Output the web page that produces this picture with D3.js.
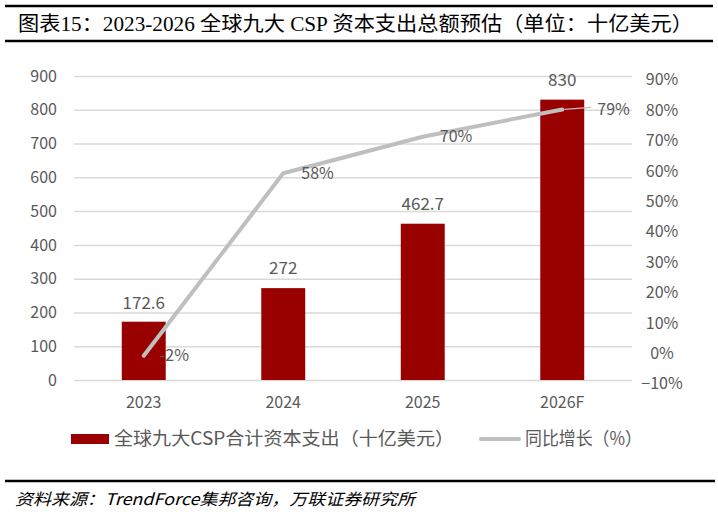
<!DOCTYPE html>
<html>
<head>
<meta charset="utf-8">
<script src="https://cdn.jsdelivr.net/npm/d3@7"></script>
<style>
  html, body { margin: 0; padding: 0; background: #fff; }
  svg { display: block; }
</style>
</head>
<body>
<div id="chart"></div>
<script>
const years = ["2023", "2024", "2025", "2026F"]
const capex = [172.6, 272, 462.7, 830]
const capexLabels = ["172.6", "272", "462.7", "830"]
const growth = [-0.02, 0.58, 0.70, 0.79]
const growthLabels = ["-2%", "58%", "70%", "79%"]
const leftTicks = [0, 100, 200, 300, 400, 500, 600, 700, 800, 900]
const rightTicks = [-0.1, 0, 0.1, 0.2, 0.3, 0.4, 0.5, 0.6, 0.7, 0.8, 0.9]

const titleText = "图表15：2023-2026 全球九大 CSP 资本支出总额预估（单位：十亿美元）"
const legendBar = "全球九大CSP合计资本支出（十亿美元）"
const legendLine = "同比增长（%）"
const sourceText = "资料来源：TrendForce集邦咨询，万联证券研究所"

const width = 718, height = 512
const plot = { left: 74, right: 632, top: 76, bottom: 380 }
const sans = "'Noto Sans CJK SC', 'Noto Sans', sans-serif"
const serif = "'Liberation Serif', 'Times New Roman', 'Noto Sans CJK SC', serif"
const textColor = "#595959"
const barColor = "#990000"
const lineColor = "#bfbfbf"

const svg = d3.select("#chart").append("svg")
  .attr("width", width)
  .attr("height", height)

// title block with the two heavy rules
svg.append("line").attr("x1", 5).attr("x2", 713).attr("y1", 6).attr("y2", 6)
  .attr("stroke", "#000").attr("stroke-width", 2.5)
svg.append("line").attr("x1", 5).attr("x2", 713).attr("y1", 41).attr("y2", 41)
  .attr("stroke", "#000").attr("stroke-width", 2.5)
svg.append("text")
  .attr("x", 18).attr("y", 31)
  .attr("textLength", 675).attr("lengthAdjust", "spacingAndGlyphs")
  .style("font-family", serif).style("font-size", "20px").style("fill", "#000")
  .text(titleText)

// scales
const x = d3.scaleBand()
  .domain(years)
  .range([plot.left, plot.right])
  .paddingInner(0.685)
  .paddingOuter(0.3425)

const y = d3.scaleLinear().domain([0, 900]).range([plot.bottom, plot.top])
const y2 = d3.scaleLinear().domain([-0.1, 0.9]).range([plot.bottom, plot.top])

// gridlines
svg.append("g")
  .attr("class", "grid")
  .attr("transform", `translate(${plot.left},0)`)
  .call(d3.axisLeft(y).tickValues(leftTicks).tickSize(-(plot.right - plot.left)).tickFormat(""))
  .call(g => g.select(".domain").remove())
  .call(g => g.selectAll("line").attr("stroke", "#d9d9d9").attr("stroke-width", 1.5))

// left axis labels
svg.append("g")
  .attr("class", "y-axis")
  .attr("transform", `translate(${plot.left},0)`)
  .call(d3.axisLeft(y).tickValues(leftTicks).tickSize(0).tickPadding(17))
  .call(g => g.select(".domain").remove())
  .call(g => g.selectAll("text")
    .style("font-family", sans).style("font-size", "16px").attr("fill", textColor))

// right axis labels
svg.append("g")
  .attr("class", "y2-axis")
  .attr("transform", `translate(${plot.right},0)`)
  .call(d3.axisRight(y2).tickValues(rightTicks).tickSize(0).tickPadding(30)
    .tickFormat(d => (d < 0 ? "\u2212" : "") + Math.round(Math.abs(d) * 100) + "%"))
  .call(g => g.select(".domain").remove())
  .call(g => g.selectAll("text")
    .attr("text-anchor", "middle")
    .attr("dy", "0.55em")
    .style("font-family", sans).style("font-size", "16px").attr("fill", textColor))

// x axis labels
svg.append("g")
  .attr("class", "x-axis")
  .attr("transform", `translate(0,${plot.bottom})`)
  .call(d3.axisBottom(x).tickSize(0).tickPadding(17))
  .call(g => g.select(".domain").remove())
  .call(g => g.selectAll("text")
    .style("font-family", sans).style("font-size", "16px").attr("fill", textColor))

// bars
svg.append("g").selectAll("rect")
  .data(years)
  .join("rect")
  .attr("x", d => x(d))
  .attr("width", x.bandwidth())
  .attr("y", (d, i) => y(capex[i]))
  .attr("height", (d, i) => y(0) - y(capex[i]))
  .attr("fill", barColor)

svg.append("g").selectAll("text")
  .data(years)
  .join("text")
  .attr("x", d => x(d) + x.bandwidth() / 2)
  .attr("y", (d, i) => y(capex[i]) - (i === 0 ? 13 : 14))
  .attr("text-anchor", "middle")
  .style("font-family", sans).style("font-size", "17px").style("fill", textColor)
  .text((d, i) => capexLabels[i])

// growth line
const cx = d => x(d) + x.bandwidth() / 2
const line = d3.line()
  .x((d, i) => cx(years[i]))
  .y(d => y2(d))

svg.append("path")
  .datum(growth)
  .attr("fill", "none")
  .attr("stroke", lineColor)
  .attr("stroke-width", 4)
  .attr("stroke-linecap", "round")
  .attr("stroke-linejoin", "round")
  .attr("d", line)

// leader line for the last label
svg.append("line")
  .attr("x1", cx(years[3]) + 2).attr("x2", cx(years[3]) + 29)
  .attr("y1", y2(growth[3])).attr("y2", y2(growth[3]) - 2)
  .attr("stroke", lineColor).attr("stroke-width", 1.2)

const labelDx = [16, 18, 17, 35]
svg.append("g").selectAll("text")
  .data(years)
  .join("text")
  .attr("x", (d, i) => cx(d) + labelDx[i])
  .attr("y", (d, i) => y2(growth[i]))
  .attr("dy", "0.35em")
  .style("font-family", sans).style("font-size", "16px").style("fill", textColor)
  .text((d, i) => growthLabels[i])

// legend
const legend = svg.append("g").attr("class", "legend")
legend.append("rect")
  .attr("x", 71).attr("y", 434).attr("width", 38).attr("height", 10)
  .attr("fill", barColor)
legend.append("text")
  .attr("x", 114).attr("y", 439).attr("dy", "0.35em")
  .attr("textLength", 340).attr("lengthAdjust", "spacingAndGlyphs")
  .style("font-family", sans).style("font-size", "18px").style("fill", textColor)
  .text(legendBar)
legend.append("line")
  .attr("x1", 481).attr("x2", 519).attr("y1", 439).attr("y2", 439)
  .attr("stroke", lineColor).attr("stroke-width", 4).attr("stroke-linecap", "round")
legend.append("text")
  .attr("x", 525).attr("y", 439).attr("dy", "0.35em")
  .attr("textLength", 117).attr("lengthAdjust", "spacingAndGlyphs")
  .style("font-family", sans).style("font-size", "18px").style("fill", textColor)
  .text(legendLine)

// source footer
svg.append("line").attr("x1", 5).attr("x2", 715).attr("y1", 481).attr("y2", 481)
  .attr("stroke", "#000").attr("stroke-width", 2.5)
svg.append("text")
  .attr("x", 15).attr("y", 505)
  .attr("textLength", 400).attr("lengthAdjust", "spacingAndGlyphs")
  .style("font-family", sans).style("font-size", "16px").style("font-style", "italic")
  .style("fill", "#000")
  .text(sourceText)
</script>
</body>
</html>
